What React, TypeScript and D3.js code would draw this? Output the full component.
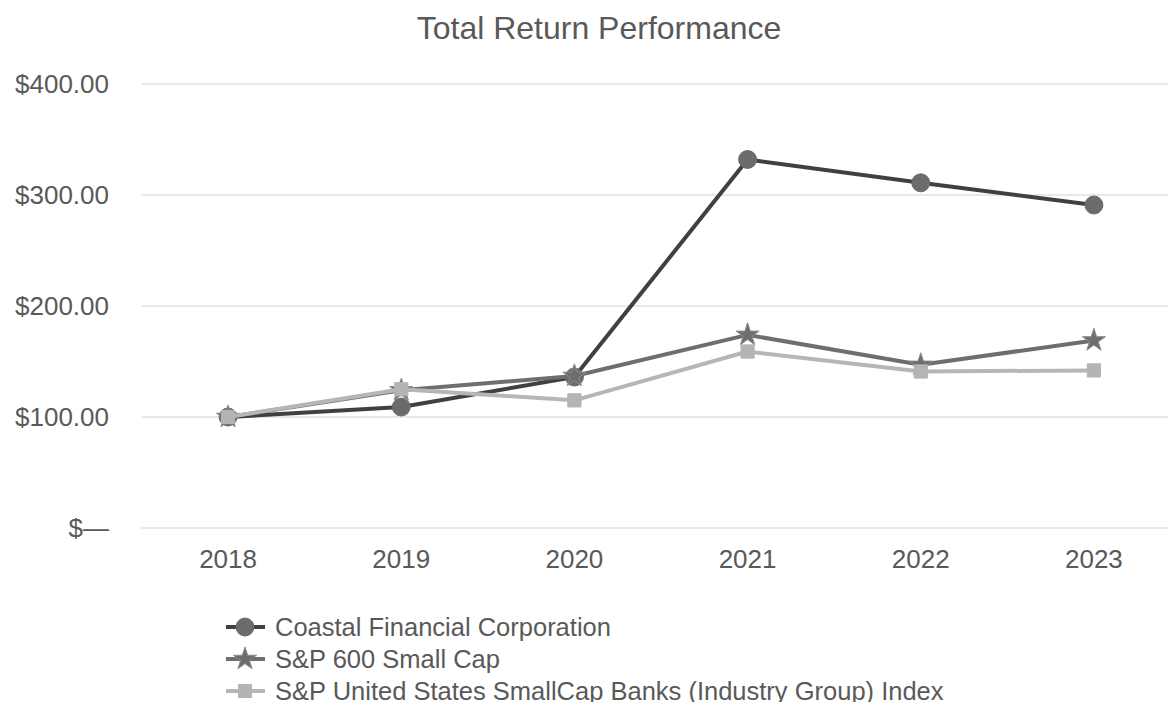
import React, { useRef, useEffect } from "react";
import * as d3 from "d3";

// Data
const years = ["2018", "2019", "2020", "2021", "2022", "2023"];
const coastal = [100, 109, 136, 332, 311, 291];
const sp600 = [100, 124, 137, 174, 147, 169];
const banks = [100, 125, 115, 159, 141, 142];
const yTicks = [0, 100, 200, 300, 400];
const seriesNames = [
  "Coastal Financial Corporation",
  "S&P 600 Small Cap",
  "S&P United States SmallCap Banks (Industry Group) Index"
];

const WIDTH = 1168;
const HEIGHT = 702;
const FONT = "'Liberation Sans', Arial, sans-serif";
const TEXT_COLOR = "#595959";

const styles = [
  { line: "#404040", fill: "#6b6b6b", stroke: "#6b6b6b", symbol: d3.symbolCircle, size: 254, legendSize: 254 },
  { line: "#6e6e6e", fill: "#6e6e6e", stroke: "#8c8c8c", symbol: d3.symbolStar, size: 165, legendSize: 165 },
  { line: "#b6b6b6", fill: "#b4b4b4", stroke: "#b4b4b4", symbol: d3.symbolSquare, size: 175, legendSize: 169 }
];

export default function App() {
  const svgRef = useRef<SVGSVGElement | null>(null);

  useEffect(() => {
    drawChart();
  }, []);

  function drawChart() {
    const svg = d3.select(svgRef.current);
    svg.selectAll("*").remove();

    const x = d3.scalePoint().domain(years).range([141.5, 1180.5]).padding(0.5);
    const y = d3.scaleLinear().domain([0, 400]).range([528, 84]);

    // title
    svg.append("text")
      .attr("x", 599)
      .attr("y", 39)
      .attr("text-anchor", "middle")
      .style("font-family", FONT)
      .style("font-size", "32px")
      .style("fill", TEXT_COLOR)
      .text("Total Return Performance");

    // gridlines + y labels
    yTicks.forEach((t) => {
      svg.append("line")
        .attr("x1", 141.5)
        .attr("x2", 1180.5)
        .attr("y1", y(t))
        .attr("y2", y(t))
        .attr("stroke", "#e0e0e0")
        .attr("stroke-width", 1.5);
      svg.append("text")
        .attr("x", 109)
        .attr("y", y(t))
        .attr("dy", "0.35em")
        .attr("text-anchor", "end")
        .style("font-family", FONT)
        .style("font-size", "26px")
        .style("fill", TEXT_COLOR)
        .text(t === 0 ? "$\u2014" : "$" + d3.format(".2f")(t));
    });

    // x labels
    years.forEach((yr) => {
      svg.append("text")
        .attr("x", x(yr)!)
        .attr("y", 568)
        .attr("text-anchor", "middle")
        .style("font-family", FONT)
        .style("font-size", "26px")
        .style("fill", TEXT_COLOR)
        .text(yr);
    });

    const line = d3.line<number>()
      .x((_, i) => x(years[i])!)
      .y((d) => y(d));

    [coastal, sp600, banks].forEach((values, si) => {
      const st = styles[si];
      svg.append("path")
        .attr("d", line(values))
        .attr("fill", "none")
        .attr("stroke", st.line)
        .attr("stroke-width", 4)
        .attr("stroke-linejoin", "round");
      const sym = d3.symbol().type(st.symbol).size(st.size);
      values.forEach((v, i) => {
        svg.append("path")
          .attr("d", sym())
          .attr("transform", `translate(${x(years[i])},${y(v)})`)
          .attr("fill", st.fill)
          .attr("stroke", st.stroke)
          .attr("stroke-width", 1);
      });
    });

    // legend
    seriesNames.forEach((name, si) => {
      const st = styles[si];
      const ly = 627 + si * 32;
      svg.append("line")
        .attr("x1", 226)
        .attr("x2", 265)
        .attr("y1", ly)
        .attr("y2", ly)
        .attr("stroke", st.line)
        .attr("stroke-width", 4);
      svg.append("path")
        .attr("d", d3.symbol().type(st.symbol).size(st.legendSize)())
        .attr("transform", `translate(245,${ly})`)
        .attr("fill", st.fill)
        .attr("stroke", st.stroke)
        .attr("stroke-width", 1);
      svg.append("text")
        .attr("x", 275)
        .attr("y", ly)
        .attr("dy", "0.35em")
        .style("font-family", FONT)
        .style("font-size", "25.5px")
        .style("fill", TEXT_COLOR)
        .text(name);
    });
  }

  return (
    <svg
      ref={svgRef}
      width={WIDTH}
      height={HEIGHT}
      style={{ position: "absolute", left: 0, top: 0, background: "#fff" }}
    ></svg>
  );
}
